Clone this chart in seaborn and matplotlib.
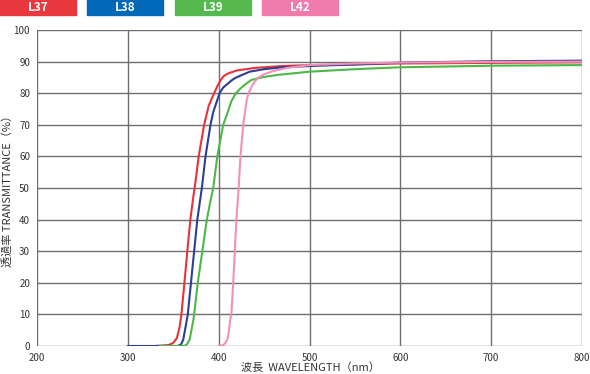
import numpy as np
import pandas as pd
import matplotlib
matplotlib.use("Agg")
import matplotlib.pyplot as plt
import seaborn as sns
from matplotlib.patches import Rectangle

# ---- data ----
series_names = ["L37", "L38", "L39", "L42"]

l37_wl = [330, 345, 350, 354, 357, 359, 362.3, 365.5, 368.8, 372, 374.5, 378, 384, 389, 395, 399, 403, 406, 410, 420, 440, 470, 500, 550, 600, 700, 800]
l37_t = [0, 0.3, 1, 2.5, 6, 10, 20, 30, 40, 47, 52, 60, 70, 76, 80, 82.5, 84.5, 85.5, 86.2, 87.2, 88.0, 88.6, 88.9, 89.1, 89.4, 89.6, 89.8]

l38_wl = [300, 355, 358.5, 361, 364.8, 366, 369.5, 373, 376.5, 379.5, 381.5, 385.5, 391, 394, 401, 405, 410, 414, 418, 434, 450, 470, 500, 550, 600, 700, 800]
l38_t = [0, 0, 0.5, 2, 8, 10, 20, 30, 40, 46, 50, 60, 70, 74, 80, 81.8, 83, 84, 84.8, 86.8, 87.6, 88.2, 88.6, 89.1, 89.7, 90.1, 90.3]

l39_wl = [335, 362, 365, 368, 372, 373, 377, 382, 387, 391, 394, 398.5, 405, 410, 414, 419, 424, 428, 436, 449, 465, 500, 550, 600, 700, 800]
l39_t = [0, 0, 0.5, 2, 8, 10, 20, 30, 40, 46, 50, 60, 70, 74, 77.5, 80, 81.5, 82.5, 84.2, 85.1, 85.8, 86.8, 87.6, 88.2, 88.7, 88.9]

l42_wl = [400, 405, 407, 409.5, 411, 412.5, 414, 416, 417.8, 419.5, 421, 422, 424, 427, 429, 431, 433, 435, 437, 440, 443, 450, 460, 475, 500, 550, 600, 700, 800]
l42_t = [0, 0.3, 0.8, 2, 4, 8, 10, 20, 30, 40, 46, 50, 60, 70, 74, 78, 80, 81.3, 82.5, 83.8, 84.8, 86, 87, 88, 88.9, 89.4, 89.7, 89.9, 90.0]

x_ticks = [200, 300, 400, 500, 600, 700, 800]
y_ticks = [0, 10, 20, 30, 40, 50, 60, 70, 80, 90, 100]

line_colors = {"L37": "#e8323c", "L38": "#2b3f93", "L39": "#4cb848", "L42": "#f290b8"}
box_colors = {"L37": "#e8383d", "L38": "#0068b7", "L39": "#55b94f", "L42": "#f07aab"}

frames = []
for name, wl, t in zip(series_names, [l37_wl, l38_wl, l39_wl, l42_wl], [l37_t, l38_t, l39_t, l42_t]):
    frames.append(pd.DataFrame({"wl": wl, "t": t, "series": name}))
df = pd.concat(frames, ignore_index=True)

sns.set_theme(style="white")
plt.rcParams["font.family"] = ["Noto Sans CJK JP", "DejaVu Sans"]

fig = plt.figure(figsize=(5.9, 3.74), dpi=100)
ax = fig.add_axes([37 / 590, 1 - 346 / 374, (582 - 37) / 590, (346 - 30) / 374])

grid_c = "#6e6e6e"
for xv in x_ticks:
    ax.axvline(xv, color=grid_c, lw=1.0, zorder=1)
for yv in y_ticks:
    ax.axhline(yv, color=grid_c, lw=1.0, zorder=1)

sns.lineplot(data=df, x="wl", y="t", hue="series", palette=line_colors,
             estimator=None, sort=False, legend=False, lw=1.5, ax=ax, zorder=3)

ax.set_xlim(200, 800)
ax.set_ylim(0, 100)
ax.set_xticks(x_ticks)
ax.set_yticks(y_ticks)
ax.set_xticklabels([str(v) for v in x_ticks])
ax.set_yticklabels([str(v) for v in y_ticks])
ax.tick_params(axis="both", length=0, labelsize=7, colors="#333333", pad=5)
for s in ax.spines.values():
    s.set_visible(False)
ax.set_xlabel("")
ax.set_ylabel("")

fig.text(310 / 590, 1 - 368 / 374, "波長  WAVELENGTH（nm）", ha="center", va="center",
         fontsize=8, color="#333333")
fig.text(8 / 590, 1 - 188 / 374, "透過率 TRANSMITTANCE（%）", ha="center", va="center",
         rotation=90, fontsize=8, color="#333333")

# colored legend boxes at top
box_x = [0, 87, 175, 262]
for name, bx in zip(series_names, box_x):
    fig.patches.append(Rectangle((bx / 590, 1 - 15 / 374), 76 / 590, 15 / 374,
                                 transform=fig.transFigure, color=box_colors[name], zorder=5))
    fig.text((bx + 38) / 590, 1 - 7.5 / 374, name, ha="center", va="center",
             color="white", fontsize=8.5, fontweight="bold", zorder=6)

fig.savefig("out.png", dpi=100)
